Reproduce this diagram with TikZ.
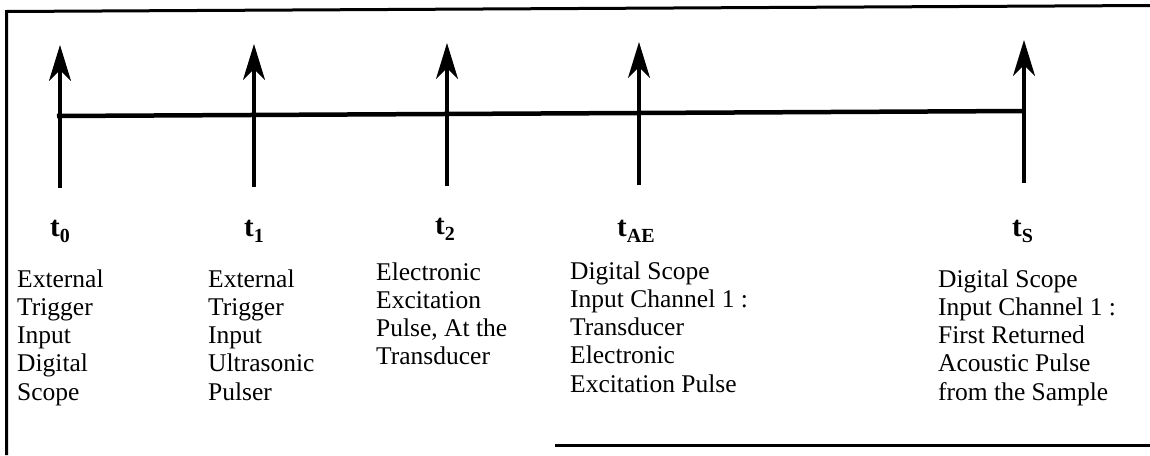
\documentclass[tikz,border=0pt]{standalone}
\usepackage{fontspec}
\setmainfont{Liberation Serif}
\usetikzlibrary{arrows.meta}

% lowered subscript for the time labels
\newcommand\tsub[1]{\raisebox{-6pt}{\fontsize{20}{20}\selectfont #1}}

\begin{document}
\begin{tikzpicture}[x=1pt,y=-1pt,
  frame/.style={line width=3pt},
  timeline/.style={line width=4.5pt},
  tick/.style={line width=3.2pt, -{Stealth[length=36pt,width=22pt,inset=11pt]}},
  tlabel/.style={anchor=base west, inner sep=0pt, font=\bfseries\fontsize{29}{30}\selectfont},
  desc/.style={anchor=base west, inner sep=0pt, font=\fontsize{25.5}{28.3}\selectfont}]
\useasboundingbox (0,0) rectangle (1150,455);

% frame
\coordinate (fa) at (6.5,455);
\coordinate (fb) at (6.5,11.5);
\coordinate (fc) at (1150,5.5);
\coordinate (fd) at (555,445);
\coordinate (fe) at (1150,445);
\draw[frame] (fa) -- (fb) -- (fc);
\draw[frame] (fd) -- (fe);

% event ticks: bottom and top of each arrow
\coordinate (b0) at (60,188);   \coordinate (a0) at (60,45);
\coordinate (b1) at (254,187);  \coordinate (a1) at (254,44);
\coordinate (b2) at (447,186);  \coordinate (a2) at (447,43);
\coordinate (b3) at (639,185);  \coordinate (a3) at (639,42);
\coordinate (b4) at (1024,183); \coordinate (a4) at (1024,40);

% time axis
\coordinate (h0) at (57,116);
\coordinate (h1) at (1024,111);
\draw[timeline] (h0) -- (h1);

\foreach \i in {0,...,4} \draw[tick] (b\i) -- (a\i);

% time labels
\node[tlabel] (l0) at (50,236)   {t\tsub{0}};
\node[tlabel] (l1) at (244,236)  {t\tsub{1}};
\node[tlabel] (l2) at (435,234)  {t\tsub{2}};
\node[tlabel] (l3) at (617,236)  {t\tsub{AE}};
\node[tlabel] (l4) at (1012,236) {t\tsub{S}};

% event descriptions
\node[desc] (d0) at (17,287)  {\parbox[t]{180pt}{\raggedright External\\Trigger\\Input\\Digital\\Scope}};
\node[desc] (d1) at (208,287) {\parbox[t]{170pt}{\raggedright External\\Trigger\\Input\\Ultrasonic\\Pulser}};
\node[desc] (d2) at (376,280) {\parbox[t]{190pt}{\raggedright Electronic\\Excitation\\Pulse, At the\\Transducer}};
\node[desc] (d3) at (570,279) {\parbox[t]{300pt}{\raggedright Digital Scope\\Input Channel 1 :\\Transducer\\Electronic\\Excitation Pulse}};
\node[desc] (d4) at (938,287) {\parbox[t]{210pt}{\raggedright Digital Scope\\Input Channel 1 :\\First Returned\\Acoustic Pulse\\from the Sample}};
\end{tikzpicture}
\end{document}
